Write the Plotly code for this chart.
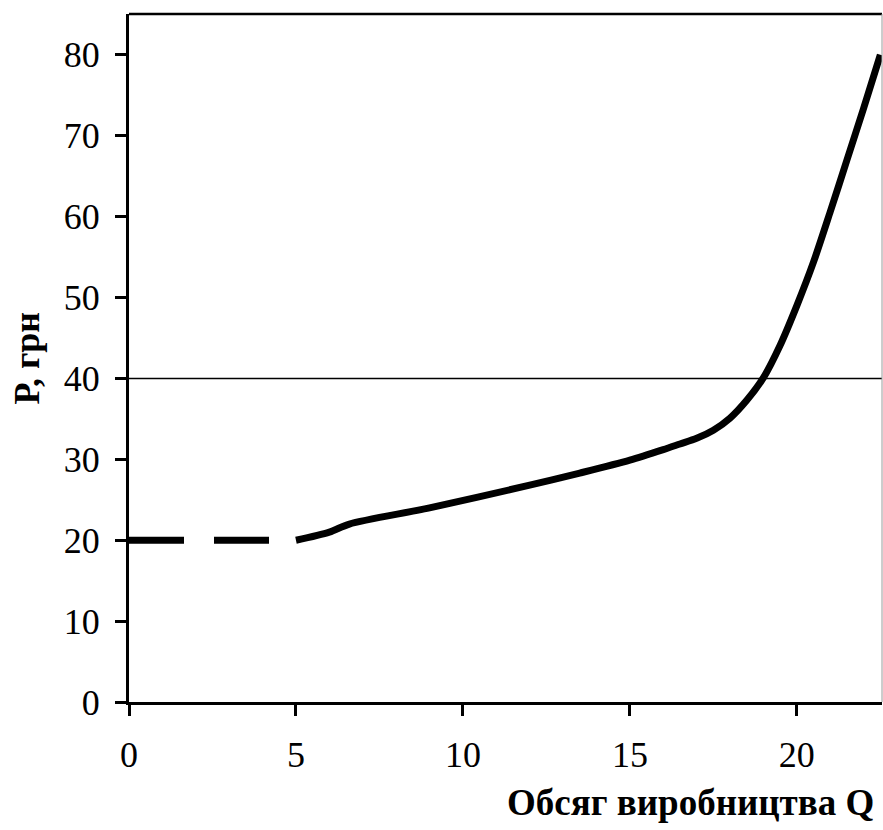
import plotly.graph_objects as go

# Data
dash_q = [0, 5]
dash_p = [20, 20]
curve_q = [5, 6, 6.6, 9, 12, 13.5, 15, 16, 16.5, 17, 17.5, 18, 18.5, 19, 19.5, 20, 20.5, 21, 21.5, 22, 22.5]
curve_p = [20, 21, 22, 24, 26.8, 28.3, 29.9, 31.2, 31.9, 32.6, 33.6, 35.1, 37.3, 40.1, 44.1, 49.0, 54.4, 60.6, 67.0, 73.4, 80]
level_p = 40
x_ticks = [0, 5, 10, 15, 20]
y_ticks = [0, 10, 20, 30, 40, 50, 60, 70, 80]

FONT = "Liberation Serif"

fig = go.Figure()
fig.add_trace(go.Scatter(x=dash_q, y=dash_p, mode="lines",
                         line=dict(color="black", width=7, dash="55px,30px"),
                         showlegend=False, hoverinfo="skip"))
fig.add_trace(go.Scatter(x=curve_q, y=curve_p, mode="lines",
                         line=dict(color="black", width=7, shape="spline", smoothing=0.8),
                         showlegend=False, hoverinfo="skip"))

fig.add_shape(type="line", xref="paper", yref="y", x0=0, x1=1, y0=level_p, y1=level_p,
              line=dict(color="black", width=1.5), layer="below")
# frame: top black, right grey
fig.add_shape(type="line", xref="paper", yref="paper", x0=0, x1=1, y0=1, y1=1,
              line=dict(color="black", width=2.5))
fig.add_shape(type="line", xref="paper", yref="paper", x0=1, x1=1, y0=0, y1=1,
              line=dict(color="#9a9a9a", width=1))

fig.update_layout(
    width=883, height=830,
    margin=dict(l=129, r=1, t=14, b=128),
    paper_bgcolor="white", plot_bgcolor="white",
    font=dict(family=FONT, color="black", size=36),
    xaxis=dict(range=[0, 22.55], tickvals=x_ticks, ticks="outside", ticklen=11, tickwidth=2.5,
               tickcolor="black", showline=True, linecolor="black", linewidth=3,
               showgrid=False, zeroline=False, ticklabelstandoff=8,
               tickfont=dict(family=FONT, size=36, color="black")),
    yaxis=dict(range=[0, 85.05], tickvals=y_ticks, ticks="outside", ticklen=11, tickwidth=2.5,
               tickcolor="black", showline=True, linecolor="black", linewidth=3,
               showgrid=False, zeroline=False, ticklabelstandoff=8,
               tickfont=dict(family=FONT, size=36, color="black")),
    annotations=[
        dict(text="<b>Обсяг виробництва Q</b>", xref="paper", yref="paper", x=0.992, y=-0.146,
             xanchor="right", yanchor="middle", showarrow=False,
             font=dict(family=FONT, size=37, color="black")),
        dict(text="<b>Р, грн</b>", xref="paper", yref="paper", x=-0.136, y=0.5,
             xanchor="center", yanchor="middle", textangle=-90, showarrow=False,
             font=dict(family=FONT, size=36, color="black")),
    ],
)

fig.write_html("out.html", config={"displayModeBar": False},
               post_script="document.body.style.margin='0';document.body.style.overflow='hidden';")
